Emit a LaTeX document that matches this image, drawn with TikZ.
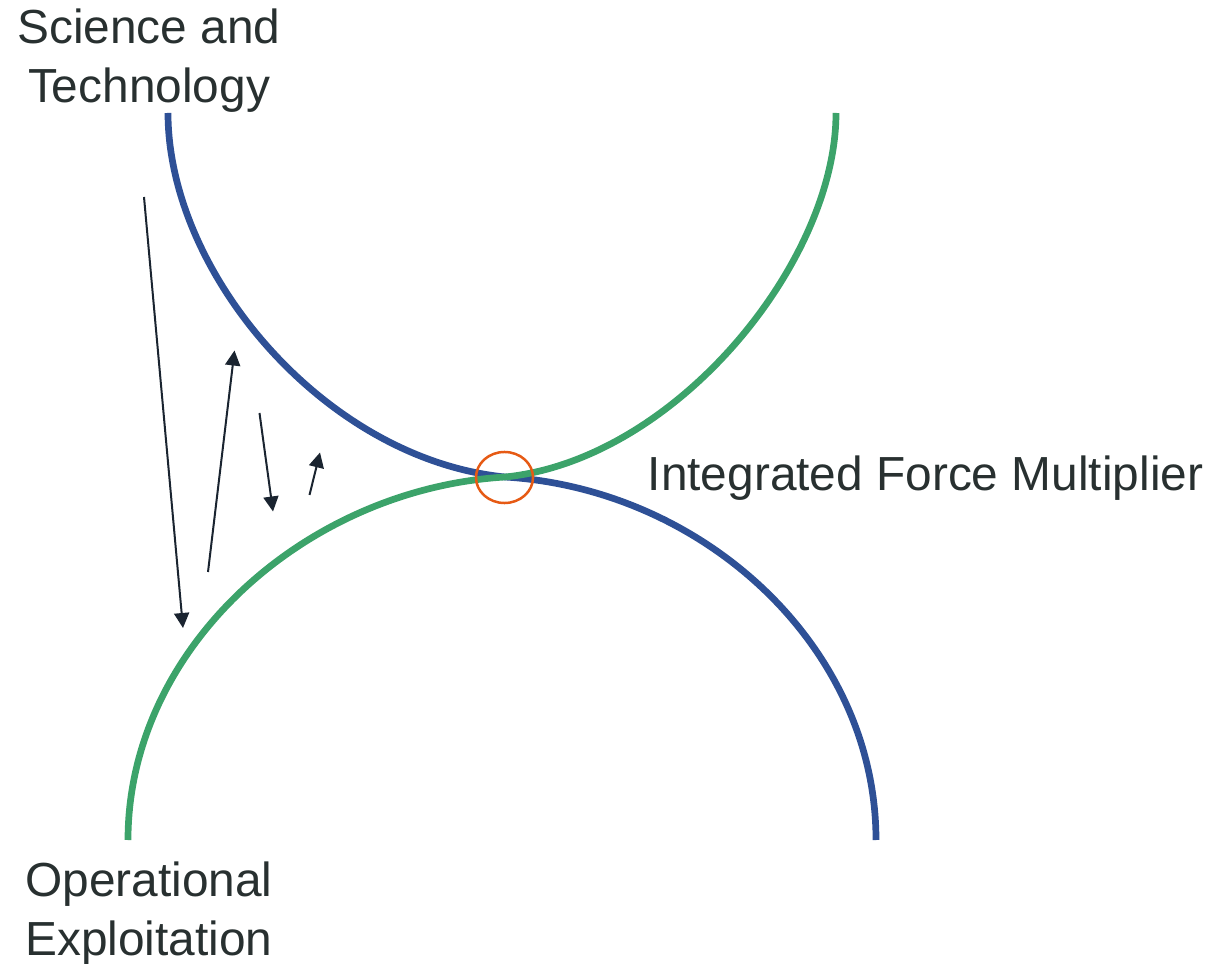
\documentclass[tikz,border=0pt]{standalone}
\usepackage{fontspec}
\setmainfont{Liberation Sans}
\usetikzlibrary{arrows.meta,shapes.geometric}
\definecolor{stblue}{RGB}{46,80,150}
\definecolor{opgreen}{RGB}{60,163,106}
\definecolor{ringorange}{RGB}{230,90,20}
\definecolor{arrowdark}{RGB}{26,36,48}
\definecolor{labelgray}{RGB}{40,48,48}
\tikzset{
  curveline/.style={line width=0.067cm, line join=round},
  flowarrow/.style={draw=arrowdark, line width=0.02cm, -{Triangle[length=0.15cm,width=0.15cm]}},
  labeltext/.style={text=labelgray, inner sep=0pt, font=\fontsize{13.6}{16.8}\selectfont},
}
\begin{document}
\begin{tikzpicture}[x=0.01cm, y=-0.01cm]
\useasboundingbox (0,0) rectangle (1230,964);
% curves
\draw[curveline, draw=stblue] (168,113) .. controls (168,273) and (325,459) .. (505,477)
      .. controls (705,489) and (876,648) .. (876,840);
\draw[curveline, draw=opgreen] (128,840) .. controls (128,648) and (305,489) .. (505,477)
      .. controls (675,460) and (836,263) .. (836,113);
% ring
\node[ellipse, draw=ringorange, line width=0.025cm, minimum width=0.57cm, minimum height=0.51cm, inner sep=0pt] (ring) at (504.5,477.5) {};
% labels
\node[labeltext, anchor=north, align=center] (st) at (149,8.5) {Science and\\Technology};
\node[labeltext, anchor=north, align=center] (oe) at (149,861.5) {Operational\\Exploitation};
\node[labeltext, anchor=base west] (ifm) at (647,491) {Integrated Force Multiplier};
% arrows
\coordinate (a1s) at (144,197);   \coordinate (a1e) at (183,628);
\coordinate (a2s) at (208,572);   \coordinate (a2e) at (234.5,350.5);
\coordinate (a3s) at (259.5,413); \coordinate (a3e) at (273,511.5);
\coordinate (a4s) at (309.5,495); \coordinate (a4e) at (320,452.5);
\draw[flowarrow] (a1s) -- (a1e);
\draw[flowarrow] (a2s) -- (a2e);
\draw[flowarrow] (a3s) -- (a3e);
\draw[flowarrow] (a4s) -- (a4e);
\end{tikzpicture}
\end{document}
